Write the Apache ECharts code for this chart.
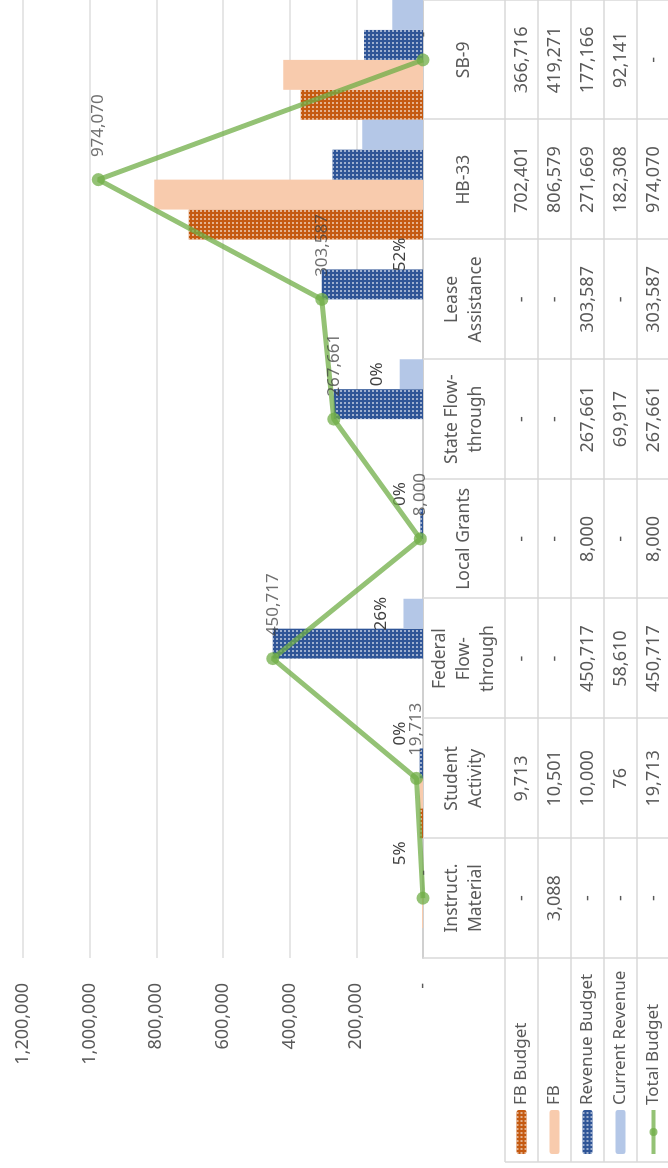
<!DOCTYPE html>
<html>
<head>
<meta charset="utf-8">
<script src="https://cdn.jsdelivr.net/npm/echarts@6/dist/echarts.min.js"></script>
<style>
  html, body { margin: 0; padding: 0; width: 668px; height: 1168px; overflow: hidden; background: #fff; }
  #chart { position: absolute; left: 0; top: 0; width: 1168px; height: 668px;
           transform-origin: 0 0; transform: translate(0, 1168px) rotate(-90deg); }
</style>
</head>
<body>
<div id="chart"></div>
<script>
// ---- data ----
const categories = ['Instruct.\nMaterial', 'Student\nActivity', 'Federal\nFlow-\nthrough', 'Local Grants',
                    'State Flow-\nthrough', 'Lease\nAssistance', 'HB-33', 'SB-9'];
const fbBudget       = [0, 9713, 0, 0, 0, 0, 702401, 366716];
const fb             = [3088, 10501, 0, 0, 0, 0, 806579, 419271];
const revenueBudget  = [0, 10000, 450717, 8000, 267661, 303587, 271669, 177166];
const currentRevenue = [0, 76, 58610, 0, 69917, 0, 182308, 92141];
const totalBudget    = [0, 19713, 450717, 8000, 267661, 303587, 974070, 0];
const revenuePctLabels = ['5%', '0%', '26%', '0%', '0%', '52%', '', ''];
const seriesNames = ['FB Budget', 'FB', 'Revenue Budget', 'Current Revenue', 'Total Budget'];
const valueMin = 0, valueMax = 1200000, valueStep = 200000;

// ---- layout / style ----
const W = 1168, H = 668;
const gridLeft = 210, gridTop = 23, gridBottomY = 423;
const headerH = 82, rowH = 33, legendLeft = 6;
const txt = '#595959', lbl = '#404040', border = '#d9d9d9';
const FONT = '"Noto Sans", "Open Sans", sans-serif';
const fmt = v => v === 0 ? '-' : v.toLocaleString('en-US');
const tableRows = [fbBudget, fb, revenueBudget, currentRevenue, totalBudget];

const decal = { symbol: 'rect', symbolSize: 0.75, dashArrayX: [2, 2], dashArrayY: [2, 2],
                color: 'rgba(255,255,255,0.95)', rotation: 0 };

const xAxes = [{
  type: 'category', data: categories, position: 'bottom', gridIndex: 0,
  axisLine: { show: true, lineStyle: { color: '#d0d0d0', width: 2 } },
  axisTick: { show: true, alignWithLabel: false, interval: 0, length: headerH + rowH * tableRows.length,
              lineStyle: { color: border, width: 1.5 } },
  axisLabel: { interval: 0, margin: headerH / 2, verticalAlign: 'middle', align: 'center',
               color: txt, fontSize: 17.5, lineHeight: 24, fontFamily: FONT }
}];
tableRows.forEach((row, k) => {
  xAxes.push({
    type: 'category', data: categories, position: 'bottom', gridIndex: 0,
    offset: headerH + rowH * k,
    axisLine: { show: true, lineStyle: { color: border, width: 1.5 } },
    axisTick: { show: false },
    axisLabel: { interval: 0, margin: rowH / 2, verticalAlign: 'middle', align: 'center',
                 color: txt, fontSize: 18, fontFamily: FONT,
                 formatter: (v, i) => fmt(row[i]) }
  });
});

const graphics = [];
for (let k = 0; k < tableRows.length; k++) {
  const y = gridBottomY + headerH + rowH * k;
  graphics.push({ type: 'line', shape: { x1: legendLeft, y1: y, x2: gridLeft, y2: y },
                  style: { stroke: border, lineWidth: 1.5 }, silent: true });
}
graphics.push({ type: 'line', shape: { x1: legendLeft, y1: gridBottomY + headerH, x2: legendLeft, y2: H + 5 },
                style: { stroke: border, lineWidth: 1.5 }, silent: true });

const legendData = seriesNames.map(n => n === 'Total Budget'
  ? { name: n, lineStyle: { width: 4 } } : { name: n });

const chart = echarts.init(document.getElementById('chart'), null, { renderer: 'canvas', width: W, height: H });
chart.setOption({
  animation: false,
  textStyle: { fontFamily: FONT },
  grid: { left: gridLeft, right: -2, top: gridTop, bottom: H - gridBottomY, containLabel: false },
  legend: {
    data: legendData, orient: 'vertical', left: 12, top: gridBottomY + headerH + (rowH - 20) / 2,
    padding: 0, height: 170,
    itemWidth: 44, itemHeight: 10, itemGap: rowH - 20, selectedMode: false,
    textStyle: { color: txt, fontSize: 17, lineHeight: 20, fontFamily: FONT }
  },
  xAxis: xAxes,
  yAxis: {
    type: 'value', min: valueMin, max: valueMax, interval: valueStep,
    axisLine: { show: false }, axisTick: { show: false },
    splitLine: { lineStyle: { color: '#e6e6e6', width: 2 } },
    axisLabel: { color: txt, fontSize: 18, margin: 25, fontFamily: FONT, formatter: v => fmt(v) }
  },
  graphic: graphics,
  series: [
    { name: 'FB Budget', type: 'bar', data: fbBudget, barGap: '0%', barCategoryGap: '0%',
      itemStyle: { color: '#C55A11', decal: decal } },
    { name: 'FB', type: 'bar', data: fb, barGap: '0%', barCategoryGap: '0%',
      itemStyle: { color: '#F8CBAD' } },
    { name: 'Revenue Budget', type: 'bar', data: revenueBudget, barGap: '0%', barCategoryGap: '0%',
      itemStyle: { color: '#2F5597', decal: decal } },
    { name: 'Current Revenue', type: 'bar', data: currentRevenue, barGap: '0%', barCategoryGap: '0%',
      itemStyle: { color: '#B4C7E7' },
      label: { show: true, position: 'top', distance: 14, color: lbl, fontSize: 17, fontFamily: FONT,
               formatter: p => revenuePctLabels[p.dataIndex] } },
    { name: 'Total Budget', type: 'line', data: totalBudget, z: 5,
      symbol: 'circle', symbolSize: 13,
      lineStyle: { color: '#70AD47', width: 5, opacity: 0.75 },
      itemStyle: { color: '#70AD47', opacity: 0.75 },
      label: { show: true, position: 'right', distance: 16, color: lbl, fontSize: 17, fontFamily: FONT,
               formatter: p => fmt(p.value) } }
  ]
});
</script>
</body>
</html>
